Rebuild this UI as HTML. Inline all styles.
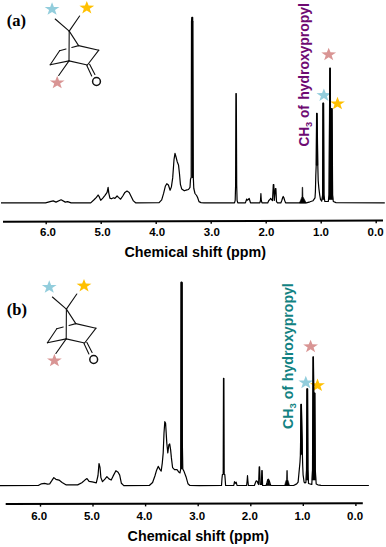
<!DOCTYPE html>
<html><head><meta charset="utf-8"><style>
html,body{margin:0;padding:0;background:#fff;}
svg{display:block;}
</style></head><body>
<svg width="386" height="547" viewBox="0 0 386 547">
<text x="6.8" y="25.9" font-family="Liberation Serif" font-weight="bold" font-size="16.5">(a)</text><text x="6.8" y="314.9" font-family="Liberation Serif" font-weight="bold" font-size="16.5">(b)</text><g stroke="#111" stroke-width="1.1" fill="none" stroke-linecap="round"><line x1="69.2" y1="31.1" x2="55.2" y2="19" /><line x1="69.2" y1="31.1" x2="79.6" y2="16" /><line x1="69.2" y1="31.1" x2="69.0" y2="60.9" /><line x1="69.2" y1="31.1" x2="78.6" y2="45.6" /><line x1="78.6" y1="45.6" x2="98.8" y2="50.2" /><line x1="98.8" y1="50.2" x2="87.4" y2="65" /><line x1="87.4" y1="65" x2="69.0" y2="60.9" /><line x1="69.0" y1="60.9" x2="50.2" y2="64.8" /><line x1="50.2" y1="64.8" x2="59.6" y2="50.7" /><line x1="69.0" y1="60.9" x2="58.7" y2="75.5" /><line x1="59.6" y1="50.7" x2="66.0" y2="48.9821052631579" /><line x1="71.8" y1="47.42526315789474" x2="78.6" y2="45.6" /><line x1="86.8" y1="65.5" x2="91.7" y2="76" /><line x1="89.6" y1="64.2" x2="94.9" y2="74.5" /><circle cx="96.5" cy="81.5" r="3.9" fill="none" stroke-width="1.5"/></g><polygon points="52.05,2.30 53.88,6.97 59.45,7.07 55.01,10.06 56.62,14.80 52.05,11.97 47.48,14.80 49.09,10.06 44.65,7.07 50.22,6.97" fill="#92CDDC"/><polygon points="86.80,0.95 88.63,5.62 94.20,5.72 89.76,8.71 91.37,13.45 86.80,10.62 82.23,13.45 83.84,8.71 79.40,5.72 84.97,5.62" fill="#FFC000"/><polygon points="57.20,75.80 59.03,80.47 64.60,80.57 60.16,83.56 61.77,88.30 57.20,85.47 52.63,88.30 54.24,83.56 49.80,80.57 55.37,80.47" fill="#D99594"/><g transform="translate(-2.8,278.0)"><g stroke="#111" stroke-width="1.1" fill="none" stroke-linecap="round"><line x1="69.2" y1="31.1" x2="55.2" y2="19" /><line x1="69.2" y1="31.1" x2="79.6" y2="16" /><line x1="69.2" y1="31.1" x2="69.0" y2="60.9" /><line x1="69.2" y1="31.1" x2="78.6" y2="45.6" /><line x1="78.6" y1="45.6" x2="98.8" y2="50.2" /><line x1="98.8" y1="50.2" x2="87.4" y2="65" /><line x1="87.4" y1="65" x2="69.0" y2="60.9" /><line x1="69.0" y1="60.9" x2="50.2" y2="64.8" /><line x1="50.2" y1="64.8" x2="59.6" y2="50.7" /><line x1="69.0" y1="60.9" x2="58.7" y2="75.5" /><line x1="59.6" y1="50.7" x2="66.0" y2="48.9821052631579" /><line x1="71.8" y1="47.42526315789474" x2="78.6" y2="45.6" /><line x1="86.8" y1="65.5" x2="91.7" y2="76" /><line x1="89.6" y1="64.2" x2="94.9" y2="74.5" /><circle cx="96.5" cy="81.5" r="3.9" fill="none" stroke-width="1.5"/></g><polygon points="52.05,2.30 53.88,6.97 59.45,7.07 55.01,10.06 56.62,14.80 52.05,11.97 47.48,14.80 49.09,10.06 44.65,7.07 50.22,6.97" fill="#92CDDC"/><polygon points="86.80,0.95 88.63,5.62 94.20,5.72 89.76,8.71 91.37,13.45 86.80,10.62 82.23,13.45 83.84,8.71 79.40,5.72 84.97,5.62" fill="#FFC000"/><polygon points="57.20,75.80 59.03,80.47 64.60,80.57 60.16,83.56 61.77,88.30 57.20,85.47 52.63,88.30 54.24,83.56 49.80,80.57 55.37,80.47" fill="#D99594"/></g><polygon points="328.70,47.70 330.53,52.37 336.10,52.47 331.66,55.46 333.27,60.20 328.70,57.37 324.13,60.20 325.74,55.46 321.30,52.47 326.87,52.37" fill="#D99594"/><polygon points="323.90,88.45 325.73,93.12 331.30,93.22 326.86,96.21 328.47,100.95 323.90,98.12 319.33,100.95 320.94,96.21 316.50,93.22 322.07,93.12" fill="#92CDDC"/><polygon points="337.50,96.80 339.33,101.47 344.90,101.57 340.46,104.56 342.07,109.30 337.50,106.47 332.93,109.30 334.54,104.56 330.10,101.57 335.67,101.47" fill="#FFC000"/><polygon points="310.60,339.70 312.43,344.37 318.00,344.47 313.56,347.46 315.17,352.20 310.60,349.37 306.03,352.20 307.64,347.46 303.20,344.47 308.77,344.37" fill="#D99594"/><polygon points="305.80,375.80 307.63,380.47 313.20,380.57 308.76,383.56 310.37,388.30 305.80,385.47 301.23,388.30 302.84,383.56 298.40,380.57 303.97,380.47" fill="#92CDDC"/><polygon points="317.50,378.50 319.33,383.17 324.90,383.27 320.46,386.26 322.07,391.00 317.50,388.17 312.93,391.00 314.54,386.26 310.10,383.27 315.67,383.17" fill="#FFC000"/><path d="M1.0,202.9 L45.5,202.9 L50.1,201.6 L53.2,200.9 L56.0,202.1 L61.1,199.8 L65.3,202.1 L67.6,201.6 L71.1,202.9 L90.7,202.9 L94.3,199.5 L96.4,197.4 L98.1,195.0 L99.2,196.7 L100.7,200.3 L102.8,198.1 L105.0,195.3 L107.1,192.4 L108.1,187.4 L108.8,193.1 L109.9,198.1 L111.4,198.8 L113.5,197.8 L114.9,198.4 L117.1,196.0 L118.5,197.4 L120.6,199.2 L122.8,196.0 L124.9,192.4 L127.0,191.0 L129.2,192.4 L131.3,196.7 L133.4,200.9 L135.6,202.8 L159.1,202.7 L161.7,199.9 L163.6,193.4 L165.3,186.3 L166.8,183.7 L168.4,185.0 L170.1,190.2 L171.4,186.9 L172.7,177.9 L174.0,159.7 L175.0,153.3 L175.9,156.5 L177.2,161.7 L178.5,164.9 L179.5,174.0 L180.4,184.3 L181.7,188.9 L184.3,190.8 L186.9,189.9 L188.5,189.5 L190.0,187.3 L190.5,179.3 L191.2,177.3 L191.5,21.3 L191.9,17.3 L192.6,17.3 L193.3,177.3 L193.4,179.3 L193.8,188.5 L195.0,193.5 L196.6,195.5 L197.6,197.5 L199.0,201.6 L201.0,202.6 L204.0,202.9 L234.5,202.9 L235.2,200.3 L235.6,185.3 L235.9,93.6 L236.3,93.6 L236.7,185.3 L237.1,200.3 L237.8,202.9 L245.4,202.9 L246.2,200.5 L246.7,199.0 L247.3,200.2 L248.3,199.5 L249.2,198.5 L249.8,200.5 L250.5,202.9 L259.8,202.9 L260.5,200.5 L260.9,193.5 L261.3,200.5 L262.0,202.9 L267.7,202.9 L268.8,200.5 L270.0,199.5 L270.7,198.3 L271.5,199.5 L272.5,200.5 L273.3,184.5 L273.8,184.5 L274.3,200.5 L275.4,188.5 L275.9,188.5 L276.5,201.6 L277.5,202.9 L280.8,202.9 L281.8,200.5 L282.7,197.5 L283.2,196.5 L283.8,197.5 L284.7,200.5 L285.6,202.9 L306.3,202.9 L310.0,201.8 L313.1,200.7 L315.0,197.9 L315.4,191.7 L315.8,175.4 L316.2,165.3 L316.6,113.4 L317.1,113.4 L317.8,165.3 L318.2,180.8 L318.9,188.6 L319.7,194.8 L320.5,199.5 L321.7,201.2 L322.6,195.0 L322.9,103.2 L323.6,103.2 L324.0,195.0 L324.8,201.5 L328.3,201.5 L329.0,195.0 L329.5,120.0 L329.8,68.2 L330.3,68.2 L330.6,150.0 L331.2,150.0 L331.6,108.7 L332.1,108.7 L332.6,195.0 L333.3,201.5 L336.0,202.6 L384.8,202.9" fill="none" stroke="#000" stroke-width="1.2" stroke-linejoin="round"/><path d="M0.0,485.7 L38.3,485.5 L41.4,483.8 L44.5,483.4 L47.6,484.2 L49.7,483.8 L51.8,480.7 L53.8,477.6 L55.9,479.3 L59.0,480.1 L62.1,482.4 L66.3,484.9 L77.7,484.9 L81.8,482.8 L84.9,480.1 L87.0,478.6 L89.1,481.3 L92.2,481.8 L96.3,482.8 L98.0,475.5 L99.0,463.5 L100.0,467.3 L100.9,477.6 L102.5,481.7 L104.9,479.2 L106.9,476.7 L109.0,478.9 L111.2,480.0 L113.2,475.9 L115.9,470.7 L118.1,472.3 L119.7,475.1 L121.4,483.3 L123.8,485.6 L149.3,485.5 L152.6,482.5 L154.9,476.0 L156.6,470.2 L158.2,466.4 L159.9,469.4 L161.2,471.0 L162.3,462.8 L163.2,452.9 L164.0,433.2 L164.8,421.7 L165.6,423.3 L166.1,431.6 L166.8,443.1 L167.8,452.9 L168.9,444.7 L169.7,443.9 L170.6,449.6 L171.4,457.9 L172.6,467.7 L174.5,469.7 L177.0,469.7 L179.0,472.3 L180.0,472.9 L180.7,469.0 L181.1,282.3 L181.4,282.1 L181.8,282.1 L182.3,440.3 L182.8,469.0 L184.1,471.6 L186.0,476.7 L188.0,483.8 L189.9,485.5 L199.3,485.6 L221.5,485.5 L222.0,478.3 L222.4,474.6 L223.2,474.3 L223.5,378.3 L223.9,378.3 L224.2,474.3 L224.8,474.6 L225.1,478.3 L225.6,485.5 L233.8,485.3 L234.5,481.7 L235.3,483.3 L236.2,482.2 L237.0,485.3 L246.6,485.5 L247.1,481.0 L247.5,475.7 L247.9,481.0 L248.4,485.5 L254.4,485.5 L255.3,483.0 L256.0,481.3 L256.6,480.8 L257.3,481.5 L258.0,483.5 L258.6,484.5 L259.2,466.9 L259.6,466.9 L260.2,484.5 L261.4,484.5 L261.8,470.5 L262.2,470.5 L262.6,485.5 L266.1,485.5 L267.0,482.5 L267.8,479.5 L268.5,479.2 L269.3,481.0 L270.1,483.5 L270.8,485.5 L293.6,485.5 L296.7,483.9 L298.1,482.1 L298.8,474.8 L299.5,467.4 L300.0,462.0 L300.4,454.6 L300.6,440.0 L300.9,404.4 L301.4,404.4 L302.2,440.0 L302.4,454.6 L302.7,465.6 L303.1,474.8 L304.1,482.1 L305.0,483.0 L305.9,482.5 L306.5,470.0 L306.9,388.8 L307.6,388.8 L308.0,470.0 L308.5,483.5 L311.8,484.5 L312.5,470.0 L313.0,356.9 L313.4,356.9 L313.8,393.0 L314.5,393.0 L314.9,393.0 L315.3,470.0 L316.2,484.0 L317.8,484.8 L321.0,485.4 L368.9,485.5" fill="none" stroke="#000" stroke-width="1.2" stroke-linejoin="round"/><polygon points="322.3,199.5 322.6,195.0 322.9,103.2 323.6,103.2 324.0,195.0 324.3,199.5" fill="#000" stroke="#000" stroke-width="0.6" stroke-linejoin="round"/><polygon points="328.7,199.5 329.0,195.0 329.5,120.0 329.8,68.2 330.3,68.2 330.6,150.0 331.2,150.0 331.6,108.7 332.1,108.7 332.6,195.0 332.9,199.5" fill="#000" stroke="#000" stroke-width="0.6" stroke-linejoin="round"/><polygon points="306.2,480.0 306.5,470.0 306.9,388.8 307.6,388.8 308.0,470.0 308.3,480.0" fill="#000" stroke="#000" stroke-width="0.6" stroke-linejoin="round"/><polygon points="312.1,480.0 312.5,470.0 313.0,356.9 313.4,356.9 313.8,393.0 314.5,393.0 314.9,393.0 315.3,470.0 315.7,480.0" fill="#000" stroke="#000" stroke-width="0.6" stroke-linejoin="round"/><polygon points="316.2,165.3 316.6,113.4 317.1,113.4 317.8,165.3" fill="#000" stroke="#000" stroke-width="0.6" stroke-linejoin="round"/><polygon points="300.4,454.6 300.6,440.0 300.9,404.4 301.4,404.4 302.2,440.0 302.4,454.6" fill="#000" stroke="#000" stroke-width="0.6" stroke-linejoin="round"/><polygon points="299.4,202.9 300.6,200.2 301.5,198.0 302.0,196.5 302.2,187.3 302.7,187.3 302.9,196.5 303.6,198.0 304.8,200.2 306.2,202.9" fill="#000" stroke="#000" stroke-width="0.6" stroke-linejoin="round"/><polygon points="266.6,485.5 267.5,482.5 268.1,480.3 268.7,480.3 269.3,482.5 270.2,485.5" fill="#000" stroke="#000" stroke-width="0.6" stroke-linejoin="round"/><polygon points="284.6,485.5 285.7,481.5 286.5,479.4 286.8,470.5 287.3,470.5 287.6,479.4 288.4,481.5 289.5,485.5" fill="#000" stroke="#000" stroke-width="0.6" stroke-linejoin="round"/><rect x="191.5" y="21" width="1.9" height="157" fill="#000"/><rect x="191.5" y="17.2" width="1.6" height="5" fill="#000"/><rect x="180.6" y="282.2" width="2.2" height="187" fill="#000"/><line x1="3" y1="221.8" x2="383" y2="220.6" stroke="#000" stroke-width="2"/><line x1="46.2" y1="221.66" x2="46.2" y2="224.26" stroke="#000" stroke-width="1.4"/><text x="48.0" y="236.4" text-anchor="middle" font-family="Liberation Sans" font-weight="bold" font-size="11.5">6.0</text><line x1="101.2" y1="221.49" x2="101.2" y2="224.09" stroke="#000" stroke-width="1.4"/><text x="102.6" y="236.4" text-anchor="middle" font-family="Liberation Sans" font-weight="bold" font-size="11.5">5.0</text><line x1="156.2" y1="221.32" x2="156.2" y2="223.92" stroke="#000" stroke-width="1.4"/><text x="157.2" y="236.4" text-anchor="middle" font-family="Liberation Sans" font-weight="bold" font-size="11.5">4.0</text><line x1="211.2" y1="221.14" x2="211.2" y2="223.74" stroke="#000" stroke-width="1.4"/><text x="211.8" y="236.4" text-anchor="middle" font-family="Liberation Sans" font-weight="bold" font-size="11.5">3.0</text><line x1="266.2" y1="220.97" x2="266.2" y2="223.57" stroke="#000" stroke-width="1.4"/><text x="266.4" y="236.4" text-anchor="middle" font-family="Liberation Sans" font-weight="bold" font-size="11.5">2.0</text><line x1="321.2" y1="220.80" x2="321.2" y2="223.40" stroke="#000" stroke-width="1.4"/><text x="321.0" y="236.4" text-anchor="middle" font-family="Liberation Sans" font-weight="bold" font-size="11.5">1.0</text><line x1="376.2" y1="220.62" x2="376.2" y2="223.22" stroke="#000" stroke-width="1.4"/><text x="375.6" y="236.4" text-anchor="middle" font-family="Liberation Sans" font-weight="bold" font-size="11.5">0.0</text><text x="124.5" y="256.8" font-family="Liberation Sans" font-weight="bold" font-size="14.3">Chemical shift (ppm)</text><line x1="5.7" y1="504.1" x2="362.8" y2="503.3" stroke="#000" stroke-width="2"/><line x1="40.5" y1="504.02" x2="40.5" y2="506.62" stroke="#000" stroke-width="1.4"/><text x="39.2" y="520.3" text-anchor="middle" font-family="Liberation Sans" font-weight="bold" font-size="11.5">6.0</text><line x1="93.0" y1="503.90" x2="93.0" y2="506.50" stroke="#000" stroke-width="1.4"/><text x="91.9" y="520.3" text-anchor="middle" font-family="Liberation Sans" font-weight="bold" font-size="11.5">5.0</text><line x1="145.6" y1="503.79" x2="145.6" y2="506.39" stroke="#000" stroke-width="1.4"/><text x="144.5" y="520.3" text-anchor="middle" font-family="Liberation Sans" font-weight="bold" font-size="11.5">4.0</text><line x1="198.2" y1="503.67" x2="198.2" y2="506.27" stroke="#000" stroke-width="1.4"/><text x="197.2" y="520.3" text-anchor="middle" font-family="Liberation Sans" font-weight="bold" font-size="11.5">3.0</text><line x1="250.8" y1="503.55" x2="250.8" y2="506.15" stroke="#000" stroke-width="1.4"/><text x="249.8" y="520.3" text-anchor="middle" font-family="Liberation Sans" font-weight="bold" font-size="11.5">2.0</text><line x1="303.3" y1="503.43" x2="303.3" y2="506.03" stroke="#000" stroke-width="1.4"/><text x="302.5" y="520.3" text-anchor="middle" font-family="Liberation Sans" font-weight="bold" font-size="11.5">1.0</text><line x1="355.9" y1="503.32" x2="355.9" y2="505.92" stroke="#000" stroke-width="1.4"/><text x="355.1" y="520.3" text-anchor="middle" font-family="Liberation Sans" font-weight="bold" font-size="11.5">0.0</text><text x="127.6" y="541.1" font-family="Liberation Sans" font-weight="bold" font-size="14.3">Chemical shift (ppm)</text><text transform="translate(308.6,146.6) rotate(-90)" font-family="Liberation Sans" font-weight="bold" font-size="14" fill="#6E0A72" textLength="41.5" lengthAdjust="spacingAndGlyphs">CH<tspan font-size="9.5" dy="3">3</tspan><tspan dy="-3"> of</tspan></text><text transform="translate(308.6,99.7) rotate(-90)" font-family="Liberation Sans" font-weight="bold" font-size="14" fill="#6E0A72" textLength="96.5" lengthAdjust="spacingAndGlyphs">hydroxypropyl</text><text transform="translate(293.0,429.1) rotate(-90)" font-family="Liberation Sans" font-weight="bold" font-size="14" fill="#128282" textLength="43.3" lengthAdjust="spacingAndGlyphs">CH<tspan font-size="9.5" dy="3">3</tspan><tspan dy="-3"> of</tspan></text><text transform="translate(293.0,381.2) rotate(-90)" font-family="Liberation Sans" font-weight="bold" font-size="14" fill="#128282" textLength="98.0" lengthAdjust="spacingAndGlyphs">hydroxypropyl</text>
</svg>
</body></html>
